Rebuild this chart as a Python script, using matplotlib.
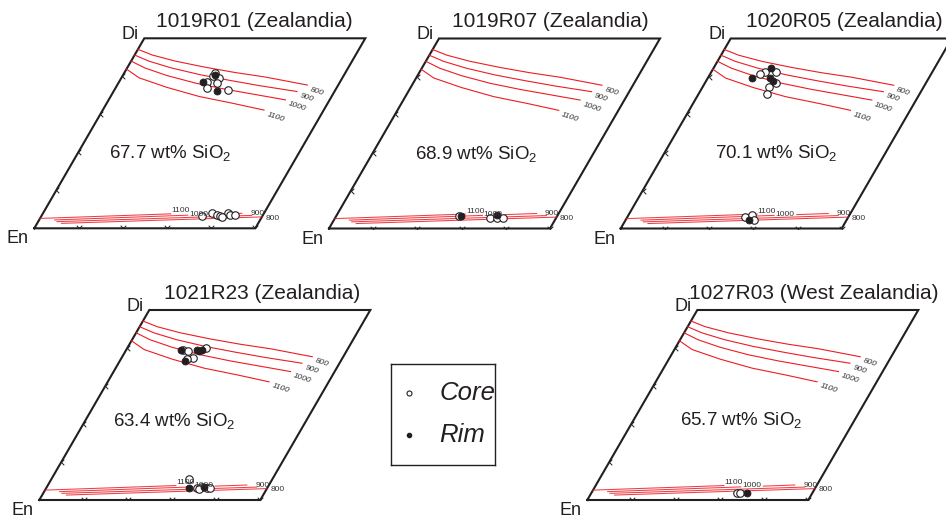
import numpy as np
import matplotlib.pyplot as plt
from matplotlib.transforms import Affine2D
from matplotlib.path import Path

plt.rcParams['font.family'] = ['Liberation Sans', 'DejaVu Sans']
plt.rcParams['mathtext.fontset'] = 'custom'
plt.rcParams['mathtext.rm'] = 'Liberation Sans'
plt.rcParams['mathtext.it'] = 'Liberation Sans:italic'

INK = '#231f20'
RED = '#ed1c24'

# ---- data -------------------------------------------------------------
titles = ['1019R01 (Zealandia)', '1019R07 (Zealandia)', '1020R05 (Zealandia)',
          '1021R23 (Zealandia)', '1027R03 (West Zealandia)']
sio2 = [67.7, 68.9, 70.1, 63.4, 65.7]

# augite isotherms (upper part of quadrilateral), Fs and Wo in mol%
aug_T = [800, 900, 1000, 1100]
aug_fs = [[0, 8, 20, 35, 50, 65, 86],
          [0, 8, 20, 35, 50, 65, 83],
          [0, 8, 20, 35, 50, 65, 80],
          [0, 8, 23, 40, 57, 73]]
aug_wo = [[47.1, 45.6, 44.0, 42.4, 41.0, 39.8, 37.7],
          [45.6, 44.0, 42.2, 40.4, 38.9, 37.5, 36.0],
          [44.0, 42.2, 40.2, 38.2, 36.6, 35.2, 33.8],
          [41.9, 39.6, 37.1, 34.7, 32.9, 31.1]]

# low-Ca pyroxene isotherms (bottom)
opx_T = [1100, 1000, 900, 800]
opx_fs = [[0, 58],
          [7, 66, np.nan, 76, 90],
          [8.5, 95],
          [11, 100]]
opx_wo = [[2.6, 3.8],
          [2.2, 3.45, np.nan, 3.65, 3.95],
          [1.75, 3.4],
          [1.3, 3.0]]
opx_lab_fs = [61.5, 70.5, 97, 105]
opx_lab_wo = [4.6, 3.75, 3.9, 2.7]

# analyses: core (open) and rim (filled), per sample
core_fs = [[41.1, 44.3, 39.9, 44.8, 41.6, 51.5, 41.1, 72.8, 76.2, 79, 81, 83.4, 85.1, 87.3, 81.9],
           [55.5, 70, 73.3, 76],
           [24.2, 22.6, 29.2, 32.2, 30.2, 30.9, 53.3, 55.7, 58.2],
           [25.7, 28.4, 35.6, 32.4, 29.9, 62.4, 68.1, 70, 72.7, 74.2, 69.6],
           [65.7, 67.1]]
core_wo = [[40.05, 39.45, 38.6, 38.15, 36.85, 36.4, 40.8, 3.25, 4.1, 3.5, 3.25, 4.1, 3.5, 3.5, 2.9],
           [3.3, 2.7, 2.7, 2.7],
           [41.25, 40.65, 41.25, 38.2, 37.15, 35.3, 2.95, 3.55, 2.25],
           [39.35, 39.15, 39.9, 37.45, 37.0, 5.45, 3.1, 3.5, 3.1, 3.1, 2.85],
           [1.95, 1.95]]
rim_fs = [[38.1, 46.5, 41.6],
          [56.5, 72.3],
          [26.1, 19.8, 28.2, 30.1, 56],
          [32, 33.4, 34, 29.4, 24.8, 64.8, 71],
          [70.6]]
rim_wo = [[38.6, 36.2, 40.35],
          [3.3, 3.55],
          [42.15, 39.7, 39.55, 38.8, 2.25],
          [39.45, 39.15, 39.6, 36.7, 39.35, 3.1, 3.5],
          [1.75]]

fs_ticks = [20, 40, 60, 80, 100]
wo_ticks = [10, 20, 30, 40]

# ---- layout -----------------------------------------------------------
W, H = 946, 524
origins = [(34.3, 228.3), (329, 228.5), (620.7, 228.5), (39.3, 500), (587.3, 500)]
base_px, height_px, shift_px = 221, 190, 110
shear = (shift_px / base_px) * (100 / 50)
sio2_pos = [(42.9, 18.6), (48.3, 18.4), (52, 18.45), (41.7, 19.4), (49.7, 19.8)]
title_dx = [0, 1, 3, 2, 6]

v_tick = Path([(-1, 1), (0, 0), (1, 1)], [Path.MOVETO, Path.LINETO, Path.LINETO])
l_tick = Path([(1, 1), (0, 0), (1, -1)], [Path.MOVETO, Path.LINETO, Path.LINETO])

fig = plt.figure(figsize=(W / 100, H / 100), dpi=100)

for i in range(5):
    ex, ey = origins[i]
    ax = fig.add_axes([ex / W, (H - ey) / H, (base_px + shift_px) / W, height_px / H])
    ax.set_xlim(0, 100 + shear * 50)
    ax.set_ylim(0, 50)
    ax.axis('off')
    tr = Affine2D().skew(np.arctan(shear), 0) + ax.transData

    # quadrilateral frame
    ax.plot([0, 100, 100, 0, 0], [0, 0, 50, 50, 0], color=INK, lw=1.5,
            transform=tr, clip_on=False, solid_joinstyle='miter')
    ax.plot(fs_ticks, [0] * len(fs_ticks), ls='none', marker=v_tick, ms=4,
            color=INK, mfc='none', mec=INK, mew=0.7, transform=tr, clip_on=False)
    ax.plot([0] * len(wo_ticks), wo_ticks, ls='none', marker=l_tick, ms=4,
            color=INK, mfc='none', mec=INK, mew=0.7, transform=tr, clip_on=False)

    # isotherms
    for T, xs, ys in zip(aug_T, aug_fs, aug_wo):
        ax.plot(xs, ys, color=RED, lw=0.8, transform=tr, clip_on=False)
        ax.annotate(str(T), (xs[-1], ys[-1]), xycoords=tr, xytext=(2, -3),
                    textcoords='offset points', fontsize=6, color='#333333',
                    style='italic', rotation=-18, rotation_mode='anchor',
                    ha='left', va='center')
    for T, xs, ys, lx, ly in zip(opx_T, opx_fs, opx_wo, opx_lab_fs, opx_lab_wo):
        ax.plot(xs, ys, color=RED, lw=0.75, alpha=0.85, transform=tr, clip_on=False)
        ax.text(lx, ly, str(T), transform=tr, fontsize=6, color='#333333',
                ha='center', va='center')

    # analyses
    ax.plot(core_fs[i], core_wo[i], ls='none', marker='o', ms=5.4, mfc='white',
            mec=INK, mew=0.8, transform=tr, clip_on=False)
    ax.plot(rim_fs[i], rim_wo[i], ls='none', marker='o', ms=5.0, mfc=INK,
            mec=INK, mew=0.6, transform=tr, clip_on=False)

    # labels
    ax.annotate('Di', (0, 50), xycoords=tr, xytext=(-4, -0.5), textcoords='offset points',
                fontsize=13, color=INK, ha='right', va='baseline')
    ax.annotate('En', (0, 0), xycoords=tr, xytext=(-4, -1.5), textcoords='offset points',
                fontsize=13, color=INK, ha='right', va='top')
    ax.annotate(titles[i], (50, 50), xycoords=tr, xytext=(title_dx[i] * 0.72, 8),
                textcoords='offset points', fontsize=15, color=INK,
                ha='center', va='baseline')
    sx, sy = sio2_pos[i]
    ax.text(sx, sy, f'{sio2[i]} wt% SiO$_2$', transform=tr, fontsize=13.5,
            color=INK, ha='center', va='baseline')

# legend box
lax = fig.add_axes([390.5 / W, (H - 465) / H, 104.5 / W, 101 / H])
lax.set_xlim(0, 1)
lax.set_ylim(0, 1)
lax.set_xticks([])
lax.set_yticks([])
for sp in lax.spines.values():
    sp.set_linewidth(1.0)
    sp.set_color(INK)
lax.plot([0.18], [0.71], ls='none', marker='o', ms=3.6, mfc='white', mec=INK, mew=0.8)
lax.plot([0.18], [0.295], ls='none', marker='o', ms=3.0, mfc=INK, mec=INK)
lax.text(0.47, 0.71, 'Core', fontsize=18.5, style='italic', color=INK, va='center', ha='left')
lax.text(0.47, 0.295, 'Rim', fontsize=18.5, style='italic', color=INK, va='center', ha='left')

fig.savefig('out.png', dpi=100)
